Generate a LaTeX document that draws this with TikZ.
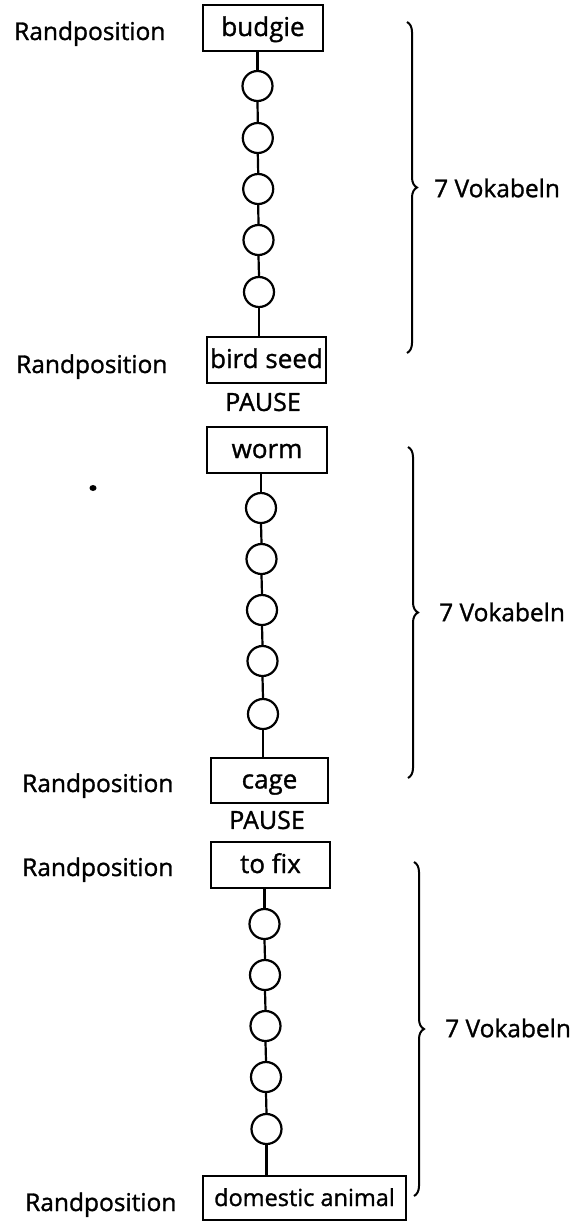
\documentclass[tikz,border=0pt]{standalone}
\usepackage{fontspec}
\setmainfont{Open Sans}[FakeBold=1.2]
\usetikzlibrary{decorations.pathreplacing}
\begin{document}
\begin{tikzpicture}[x=1pt,y=-1pt,
  word/.style={draw, line width=2.2pt, rectangle, minimum height=46pt, inner sep=0pt, text height=16pt, text depth=0pt, font=\fontsize{26}{28}\selectfont},
  slot/.style={draw, line width=2.2pt, circle, minimum size=30pt, inner sep=0pt},
  lbl/.style={anchor=base west, inner sep=0pt, font=\fontsize{24.5}{26}\selectfont},
  side/.style={anchor=west, inner sep=0pt, font=\fontsize{24.5}{26}\selectfont},
  plain/.style={inner sep=0pt, font=\fontsize{25}{27}\selectfont},
  link/.style={line width=2.2pt},
  brc/.style={decorate, decoration={brace, amplitude=10pt}, line width=2pt},
]
\useasboundingbox (0,0) rectangle (572,1221);

% section 1
\node[word, minimum width=120pt] (b1) at (263,28) {budgie};
\node[slot] (c11) at (257.5,86) {};
\node[slot] (c12) at (257.8,138) {};
\node[slot] (c13) at (258.2,189) {};
\node[slot] (c14) at (258.5,240) {};
\node[slot] (c15) at (259,292) {};
\node[word, minimum width=119pt] (b2) at (266.5,360) {bird seed};
\node[plain] (p1) at (263,402) {PAUSE};

% section 2
\node[word, minimum width=120pt] (b3) at (267,450) {worm};
\node[slot] (c21) at (261,508) {};
\node[slot] (c22) at (261.5,559) {};
\node[slot] (c23) at (262,610) {};
\node[slot] (c24) at (262.5,661) {};
\node[slot] (c25) at (263,714) {};
\node[word, minimum width=117pt, minimum height=45pt] (b4) at (269.5,780.5) {cage};
\node[plain] (p2) at (267,820) {PAUSE};

% section 3
\node[word, minimum width=119pt] (b5) at (270.5,865) {to fix};
\node[slot] (c31) at (264.5,924) {};
\node[slot] (c32) at (265,975) {};
\node[slot] (c33) at (265.5,1026) {};
\node[slot] (c34) at (266,1077) {};
\node[slot] (c35) at (266.5,1129) {};
\node[word, minimum width=203pt, minimum height=44pt, font=\fontsize{23.5}{25}\selectfont] (b6) at (304.5,1198) {domestic animal};

% connectors
\draw[link] (b1.south -| c11) -- (c11.north);
\draw[link] (c11.south) -- (c12.north);
\draw[link] (c12.south) -- (c13.north);
\draw[link] (c13.south) -- (c14.north);
\draw[link] (c14.south) -- (c15.north);
\draw[link] (c15.south) -- (c15.south |- b2.north);

\draw[link] (b3.south -| c21) -- (c21.north);
\draw[link] (c21.south) -- (c22.north);
\draw[link] (c22.south) -- (c23.north);
\draw[link] (c23.south) -- (c24.north);
\draw[link] (c24.south) -- (c25.north);
\draw[link] (c25.south) -- (c25.south |- b4.north);

\draw[link] (b5.south -| c31) -- (c31.north);
\draw[link] (c31.south) -- (c32.north);
\draw[link] (c32.south) -- (c33.north);
\draw[link] (c33.south) -- (c34.north);
\draw[link] (c34.south) -- (c35.north);
\draw[link] (c35.south) -- (c35.south |- b6.north);

% side labels
\node[lbl] (r1) at (14,40) {Randposition};
\node[lbl] (r2) at (16,373) {Randposition};
\node[lbl] (r3) at (22,792) {Randposition};
\node[lbl] (r4) at (22,876) {Randposition};
\node[lbl] (r5) at (25,1211) {Randposition};

% braces
\coordinate (t1) at (407,22); \coordinate (e1) at (407,353);
\coordinate (t2) at (408,447); \coordinate (e2) at (408,778);
\coordinate (t3) at (414,862); \coordinate (e3) at (414,1196);
\draw[brc] (t1) -- (e1);
\draw[brc] (t2) -- (e2);
\draw[brc] (t3) -- (e3);
\node[side] (v1) at (434,188) {7 Vokabeln};
\node[side] (v2) at (439,612) {7 Vokabeln};
\node[side] (v3) at (445,1028) {7 Vokabeln};

% stray ink dot
\fill (93,488) ellipse (3.5 and 3);
\end{tikzpicture}
\end{document}
